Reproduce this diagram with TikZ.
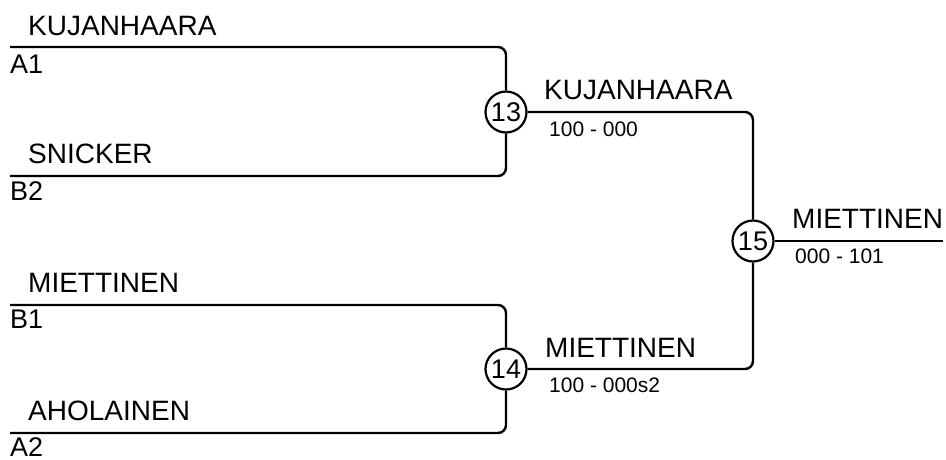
\documentclass[tikz,border=0pt]{standalone}
\usepackage{fontspec}
\setmainfont{Liberation Sans}
\begin{document}
\begin{tikzpicture}[
    % Pixel-like units, y pointing down
    x=1pt, y=-1pt,
    % Define styles for the elements
    bracket_line/.style={draw=black, line width=2.4pt, rounded corners=8pt},
    match_circle/.style={circle, draw=black, line width=2.2pt, fill=white, minimum size=41pt, inner sep=0pt, font=\fontsize{27}{30}\selectfont},
    team_name/.style={anchor=base west, inner sep=0pt, font=\fontsize{28}{32}\selectfont},
    seed_label/.style={anchor=base west, inner sep=0pt, font=\fontsize{27}{30}\selectfont},
    score_label/.style={anchor=base west, inner sep=0pt, font=\fontsize{21}{24}\selectfont}
  ]

  \useasboundingbox (0,0) rectangle (946,459);

  % --- Step 1: Starting points of the first round ---
  \coordinate (s_a1) at (10,47);
  \coordinate (s_b2) at (10,176);
  \coordinate (s_b1) at (10,305);
  \coordinate (s_a2) at (10,433);

  % --- Step 2: The match circles ---
  \node[match_circle] (m13) at (506,112) {13};
  \node[match_circle] (m14) at (506,369) {14};
  \node[match_circle] (m15) at (753,241) {15};

  % The winner's line ends here
  \coordinate (w_end) at (943,241);

  % --- Step 3: Draw the bracket lines ---
  \draw[bracket_line] (s_a1) -| (m13);
  \draw[bracket_line] (s_b2) -| (m13);
  \draw[bracket_line] (s_b1) -| (m14);
  \draw[bracket_line] (s_a2) -| (m14);
  \draw[bracket_line] (m13) -| (m15);
  \draw[bracket_line] (m14) -| (m15);
  \draw[bracket_line] (m15) -- (w_end);

  % --- Step 4: Team names and seeds ---
  \node[team_name] (n_a1) at (28,35) {KUJANHAARA};
  \node[seed_label] (l_a1) at (10,73) {A1};
  \node[team_name] (n_b2) at (28,163) {SNICKER};
  \node[seed_label] (l_b2) at (10,200) {B2};
  \node[team_name] (n_b1) at (28,292) {MIETTINEN};
  \node[seed_label] (l_b1) at (10,328) {B1};
  \node[team_name] (n_a2) at (28,420) {AHOLAINEN};
  \node[seed_label] (l_a2) at (10,456) {A2};

  % --- Step 5: Winners and scores ---
  \node[team_name] (w13) at (544,99) {KUJANHAARA};
  \node[score_label] (r13) at (549,136) {100 - 000};
  \node[team_name] (w14) at (545,357) {MIETTINEN};
  \node[score_label] (r14) at (549,392) {100 - 000s2};
  \node[team_name] (w15) at (792,228) {MIETTINEN};
  \node[score_label] (r15) at (795,263) {000 - 101};

\end{tikzpicture}
\end{document}
